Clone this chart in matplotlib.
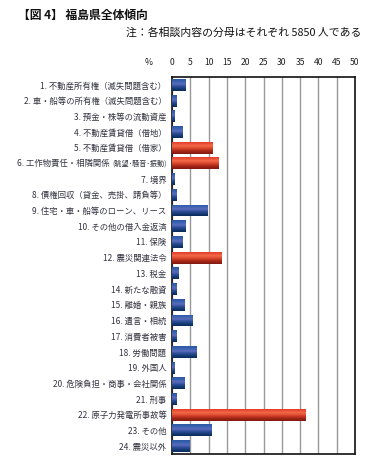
import numpy as np
import matplotlib
matplotlib.use("Agg")
import matplotlib.pyplot as plt
from matplotlib.colors import LinearSegmentedColormap
from matplotlib.offsetbox import TextArea, HPacker, AnnotationBbox

plt.rcParams['font.family'] = ['Noto Sans CJK JP', 'DejaVu Sans']

categories = [
    "1. 不動産所有権（滅失問題含む）",
    "2. 車・船等の所有権（滅失問題含む）",
    "3. 預金・株等の流動資産",
    "4. 不動産賃貸借（借地）",
    "5. 不動産賃貸借（借家）",
    "6. 工作物責任・相隣関係 (眺望･騒音･振動)",
    "7. 境界",
    "8. 債権回収（貸金、売掛、請負等）",
    "9. 住宅・車・船等のローン、リース",
    "10. その他の借入金返済",
    "11. 保険",
    "12. 震災関連法令",
    "13. 税金",
    "14. 新たな融資",
    "15. 離婚・親族",
    "16. 遺言・相続",
    "17. 消費者被害",
    "18. 労働問題",
    "19. 外国人",
    "20. 危険負担・商事・会社関係",
    "21. 刑事",
    "22. 原子力発電所事故等",
    "23. その他",
    "24. 震災以外",
]
values = [3.7, 1.3, 0.7, 2.9, 11.1, 12.6, 0.7, 1.1, 9.6, 3.7, 2.9, 13.4,
          1.8, 1.3, 3.3, 5.5, 1.3, 6.7, 0.7, 3.3, 1.1, 36.6, 10.9, 4.9]
highlight = [5, 6, 12, 22]
xticks = [0, 5, 10, 15, 20, 25, 30, 35, 40, 45, 50]

blue_cmap = LinearSegmentedColormap.from_list("b", [
    (0.0, "#2a58a6"), (0.2, "#3a62b0"), (0.42, "#5c6cbb"),
    (0.6, "#2f509c"), (0.82, "#143b74"), (1.0, "#0b2b5a")])
red_cmap = LinearSegmentedColormap.from_list("r", [
    (0.0, "#e43a28"), (0.3, "#f26a4a"), (0.5, "#de4a30"),
    (0.75, "#a82818"), (1.0, "#7e1810")])

label_color = '#333340'
label_size = 6

fig = plt.figure(figsize=(3.74, 4.66), dpi=100)
ax = fig.add_axes([172/374, 1-454/466, 183/374, 377/466])

y = np.arange(len(categories))
bars = ax.barh(y, values, height=0.76, color="none", zorder=3)
grad = np.linspace(0, 1, 64).reshape(-1, 1)
for i, b in enumerate(bars):
    bb = b.get_bbox()
    cmap = red_cmap if (i + 1) in highlight else blue_cmap
    im = ax.imshow(grad, cmap=cmap, aspect='auto', origin='upper',
                   extent=(bb.x0, bb.x1, bb.y1, bb.y0), zorder=3,
                   interpolation='bilinear')
    im.set_clip_path(b)

ax.set_xlim(0, 50)
ax.set_ylim(len(categories) - 0.5, -0.5)
ax.set_aspect('auto')
ax.set_xticks(xticks)
ax.xaxis.tick_top()
ax.tick_params(axis='x', length=0, pad=7, labelsize=6.2, colors='#222222')

# y labels: long label 6 is drawn with a condensed parenthetical part
ticklabels = list(categories)
idx6 = 5
main6, paren6 = categories[idx6].split(" (", 1)
paren6 = "(" + paren6
ticklabels[idx6] = ""
ax.set_yticks(y)
ax.set_yticklabels(ticklabels, fontsize=label_size, color=label_color)
ax.tick_params(axis='y', length=0, pad=4)

packed = HPacker(children=[
    TextArea(main6 + " ", textprops=dict(fontsize=label_size, color=label_color)),
    TextArea(paren6, textprops=dict(fontsize=5.1, color=label_color)),
], align="baseline", pad=0, sep=0)
ab = AnnotationBbox(packed, (0, y[idx6]), xycoords=ax.get_yaxis_transform(),
                    xybox=(-4, 0), boxcoords="offset points",
                    box_alignment=(1, 0.5), frameon=False, pad=0)
ax.add_artist(ab)

ax.grid(axis='x', color='#999999', linewidth=1.0, zorder=1)
ax.set_axisbelow(True)
for s in ax.spines.values():
    s.set_color('#111111')
    s.set_linewidth(1.2)

ax.text(-0.13, 1 + 10/377, "%", transform=ax.transAxes, fontsize=6.2,
        ha='center', va='bottom', color='#222222')

fig.text(18/374, 1-15/466, "【図 4】 福島県全体傾向", fontsize=8.5,
         fontweight='bold', ha='left', va='center', color='#111111')
fig.text(361/374, 1-33/466, "注：各相談内容の分母はそれぞれ 5850 人である",
         fontsize=7.8, ha='right', va='center', color='#111111')

fig.savefig("out.png", dpi=100)
